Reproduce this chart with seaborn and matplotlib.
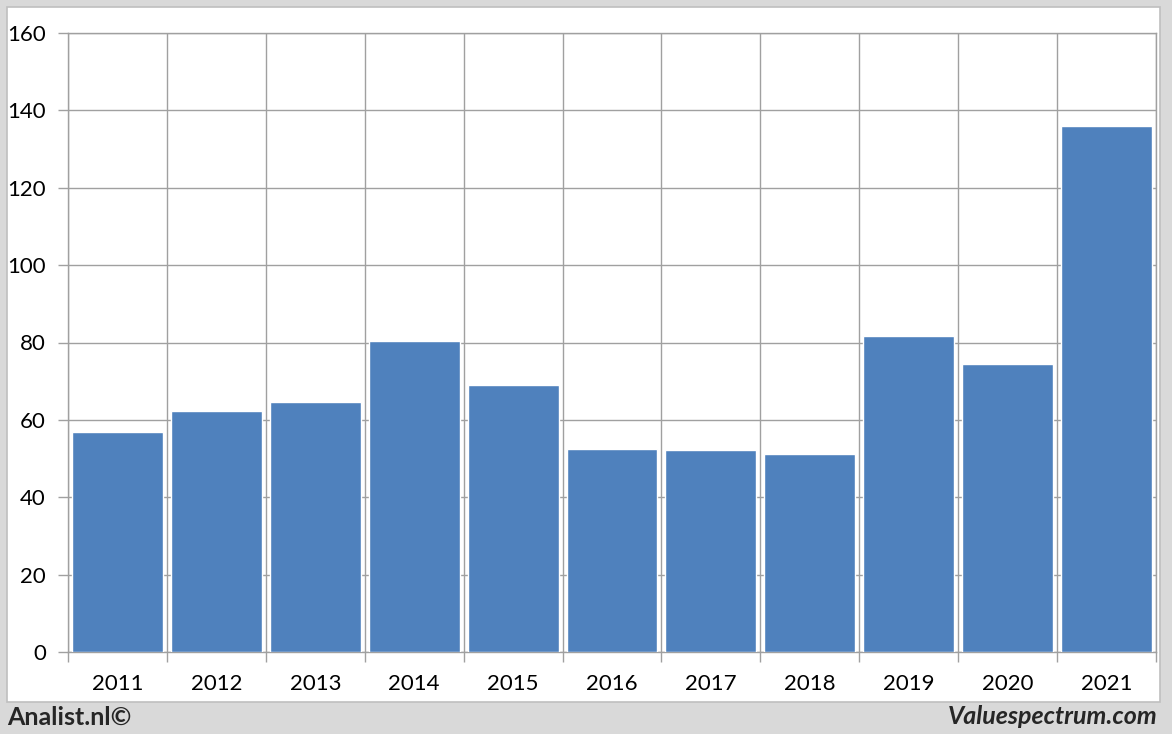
import matplotlib
matplotlib.use("Agg")
import matplotlib.pyplot as plt
import seaborn as sns
import numpy as np
import pandas as pd
from matplotlib.patches import Rectangle

# data
years = ["2011", "2012", "2013", "2014", "2015", "2016", "2017", "2018", "2019", "2020", "2021"]
values = [56.8, 62.3, 64.6, 80.4, 69.0, 52.5, 52.2, 51.2, 81.7, 74.4, 135.9]
yticks = [0, 20, 40, 60, 80, 100, 120, 140, 160]

bar_color = "#4f81bd"
grid_color = "#a0a0a0"

sns.set_style("white")
plt.rcParams["font.family"] = ["Lato", "DejaVu Sans"]

df = pd.DataFrame({"year": years, "value": values})

fig = plt.figure(figsize=(11.72, 7.34), dpi=100)
fig.patch.set_facecolor("#d9d9d9")

# white panel behind the chart
panel = Rectangle((7 / 1172, 1 - 702 / 734), (1160 - 7) / 1172, (702 - 7) / 734,
                  transform=fig.transFigure, facecolor="white",
                  edgecolor="#bfbfbf", linewidth=1.2, zorder=-10)
fig.patches.append(panel)

ax = fig.add_axes([68 / 1172, 1 - 652 / 734, 1088 / 1172, 619 / 734])
ax.set_zorder(1)
sns.barplot(data=df, x="year", y="value", color=bar_color, width=0.92,
            saturation=1, ax=ax, zorder=3)

ax.set_xlim(-0.5, len(years) - 0.5)
ax.set_ylim(0, 160)
ax.set_yticks(yticks)
ax.set_yticklabels([str(t) for t in yticks])

# vertical grid at category boundaries
ax.set_xticks(np.arange(len(years) + 1) - 0.5, minor=True)
ax.grid(True, which="minor", axis="x", color=grid_color, linewidth=1, zorder=0)
ax.grid(True, which="major", axis="y", color=grid_color, linewidth=1, zorder=0)
ax.set_axisbelow(True)

ax.tick_params(axis="x", which="major", bottom=False, length=0, labelsize=16,
               pad=16, colors="black")
ax.tick_params(axis="x", which="minor", bottom=True, length=7, width=1,
               color=grid_color, direction="out")
ax.tick_params(axis="y", which="major", left=True, length=7, width=1,
               color=grid_color, labelsize=16, pad=9, labelcolor="black")
ax.set_xlabel("")
ax.set_ylabel("")
for sp in ax.spines.values():
    sp.set_color(grid_color)
    sp.set_linewidth(1)

fig.text(7 / 1172, 1 - 717 / 734, "Analist.nl©", fontsize=18, fontweight="bold",
         ha="left", va="center")
fig.text(1158 / 1172, 1 - 717 / 734, "Valuespectrum.com", fontsize=18,
         fontweight="bold", fontstyle="italic", ha="right", va="center")

fig.savefig("out.png", dpi=100, facecolor=fig.get_facecolor())
